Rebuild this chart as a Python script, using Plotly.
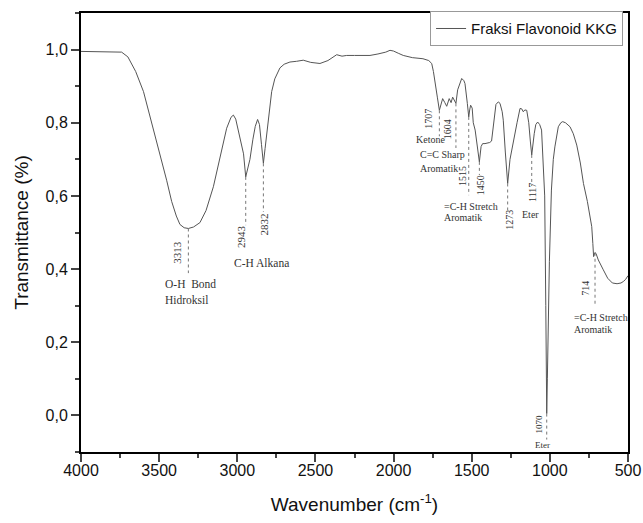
import numpy as np
import plotly.graph_objects as go

# ---------------- data ----------------
wavenumber = [4000, 3900, 3800, 3740, 3700, 3650, 3600, 3580, 3550, 3516, 3480, 3452, 3420, 3390,
              3367, 3340, 3313, 3280, 3239, 3200, 3153, 3110, 3068, 3040, 3025, 3010, 2993, 2980,
              2972, 2960, 2946, 2935, 2919, 2900, 2885, 2870, 2858, 2845, 2833, 2822, 2810, 2795,
              2780, 2760, 2727, 2700, 2663, 2620, 2578, 2530, 2471, 2420, 2380, 2364, 2330, 2300,
              2250, 2200, 2151, 2100, 2050, 2023, 2000, 1970, 1938, 1880, 1812, 1775, 1756, 1745,
              1735, 1720, 1707, 1697, 1686, 1672, 1660, 1644, 1632, 1622, 1612, 1601, 1590, 1575,
              1564, 1550, 1543, 1528, 1519, 1513, 1507, 1497, 1490, 1478, 1465, 1451, 1440, 1430,
              1415, 1400, 1385, 1373, 1360, 1345, 1330, 1319, 1305, 1298, 1285, 1270, 1255, 1234,
              1210, 1191, 1180, 1170, 1160, 1148, 1135, 1125, 1116, 1100, 1090, 1078, 1065, 1053,
              1042, 1033, 1026, 1020, 1016, 1003, 990, 978, 968, 946, 930, 918, 900, 871, 850, 828,
              805, 785, 760, 745, 732, 725, 720, 712, 705, 690, 670, 658, 630, 600, 570, 545, 530,
              515, 500]
transmittance = [0.995, 0.995, 0.995, 0.993, 0.980, 0.940, 0.885, 0.853, 0.800, 0.752, 0.690, 0.643,
                 0.585, 0.545, 0.522, 0.513, 0.511, 0.515, 0.527, 0.560, 0.625, 0.705, 0.785, 0.815,
                 0.821, 0.810, 0.780, 0.750, 0.735, 0.715, 0.652, 0.670, 0.700, 0.755, 0.790, 0.809,
                 0.795, 0.740, 0.689, 0.730, 0.780, 0.840, 0.885, 0.920, 0.950, 0.960, 0.966, 0.968,
                 0.971, 0.965, 0.962, 0.970, 0.982, 0.986, 0.982, 0.984, 0.984, 0.983, 0.984, 0.988,
                 0.993, 0.998, 0.996, 0.990, 0.984, 0.978, 0.975, 0.970, 0.962, 0.940, 0.916, 0.870,
                 0.834, 0.850, 0.866, 0.855, 0.845, 0.866, 0.855, 0.870, 0.862, 0.853, 0.890, 0.912,
                 0.921, 0.915, 0.907, 0.853, 0.816, 0.835, 0.848, 0.840, 0.800, 0.780, 0.740, 0.693,
                 0.735, 0.743, 0.743, 0.745, 0.746, 0.750, 0.800, 0.850, 0.857, 0.853, 0.830, 0.807,
                 0.720, 0.634, 0.700, 0.752, 0.800, 0.839, 0.838, 0.830, 0.835, 0.834, 0.800, 0.750,
                 0.712, 0.770, 0.795, 0.802, 0.795, 0.780, 0.700, 0.600, 0.300, 0.005, 0.100, 0.420,
                 0.616, 0.700, 0.734, 0.789, 0.800, 0.803, 0.800, 0.789, 0.770, 0.739, 0.690, 0.634,
                 0.585, 0.550, 0.516, 0.470, 0.434, 0.445, 0.443, 0.425, 0.405, 0.398, 0.375, 0.362,
                 0.360, 0.362, 0.366, 0.372, 0.382]

series_name = "Fraksi Flavonoid KKG"

# peak markers: where dashed line is drawn (picture position) and the printed label
peak_x = [3313, 2946, 2833, 1707, 1601, 1519, 1451, 1270, 1116, 1020, 711]
peak_label = ["3313", "2943", "2832", "1707", "1604", "1515", "1450", "1273", "1117", "1070", "714"]

# group labels (text)
group_text = ["O-H  Bond", "Hidroksil", "C-H Alkana", "Ketone", "C=C Sharp", "Aromatik",
              "=C-H Stretch", "Aromatik", "Eter", "Eter", "=C-H Stretch", "Aromatik"]

y_tickvals = [0.0, 0.2, 0.4, 0.6, 0.8, 1.0]
y_ticktext = ["0,0", "0,2", "0,4", "0,6", "0,8", "1,0"]
x_tickvals = [4000, 3500, 3000, 2500, 2000, 1500, 1000, 500]

# ---------------- layout helpers (positions / styles) ----------------
line_bottom = [0.389, 0.520, 0.556, 0.763, 0.731, 0.602, 0.657, 0.561, 0.627, -0.066, 0.300]
num_y = [0.446, 0.490, 0.523, 0.812, 0.782, 0.654, 0.630, 0.534, 0.610, -0.023, 0.346]
num_shift = [-11, -5, 1, -11, -9, -7, 2, 1, 1, -8, -9]
num_size = [11, 11, 11, 10, 10, 10, 10, 10, 10, 9, 10]

group_x = [3475, 3475, 2848, 1762, 1844, 1844, 1690, 1690, 1127, 1044, 858, 858]
group_y = [0.359, 0.316, 0.417, 0.755, 0.714, 0.676, 0.572, 0.540, 0.548, -0.080, 0.267, 0.234]
group_anchor = ["left", "left", "center", "center", "left", "left", "left", "left",
                "center", "center", "left", "left"]
group_size = [11.5, 11.5, 11.5, 10, 10, 10, 10, 10, 10, 9, 10, 10]

fig = go.Figure()
fig.add_trace(go.Scatter(x=wavenumber, y=transmittance, mode="lines", name=series_name,
                         line=dict(color="#555555", width=1)))

wn_sorted = np.array(wavenumber[::-1], dtype=float)
tr_sorted = np.array(transmittance[::-1], dtype=float)

shapes = []
annotations = []
for px, lab, lb, ny, sh, fs in zip(peak_x, peak_label, line_bottom, num_y, num_shift, num_size):
    top = float(np.interp(px, wn_sorted, tr_sorted))
    shapes.append(dict(type="line", xref="x", yref="y", x0=px, x1=px, y0=top, y1=lb,
                       line=dict(color="#777777", width=1, dash="dot")))
    annotations.append(dict(x=px, y=ny, xref="x", yref="y", text=lab, textangle=-90,
                            showarrow=False, xshift=sh,
                            font=dict(family="Liberation Serif", size=fs, color="#333333")))

for t, gx, gy, ga, fs in zip(group_text, group_x, group_y, group_anchor, group_size):
    annotations.append(dict(x=gx, y=gy, xref="x", yref="y", text=t, showarrow=False,
                            xanchor=ga, yanchor="middle",
                            font=dict(family="Liberation Serif", size=fs, color="#333333")))

fig.update_layout(
    width=643, height=523,
    margin=dict(l=81, r=15, t=13, b=71, autoexpand=False),
    paper_bgcolor="white", plot_bgcolor="white",
    font=dict(family="Liberation Sans, Arial", color="black"),
    shapes=shapes, annotations=annotations,
    showlegend=True,
    legend=dict(x=0.991, y=1.004, xanchor="right", yanchor="top",
                bgcolor="white", bordercolor="#999999", borderwidth=1,
                font=dict(family="Liberation Sans, Arial", size=15, color="#111111"),
                tracegroupgap=0, itemwidth=30),
)
fig.update_xaxes(range=[4000, 500], tickvals=x_tickvals, ticks="outside", ticklen=8, tickwidth=1.5,
                 minor=dict(dtick=250, ticks="outside", ticklen=4, tickwidth=1.5),
                 showline=True, linecolor="black", linewidth=2, mirror=True, showgrid=False,
                 zeroline=False, automargin=False, ticklabelstandoff=-5,
                 tickfont=dict(size=16, color="#111111"),
                 title=dict(text="Wavenumber (cm<sup>-1</sup>)", font=dict(size=19, color="#111111"),
                            standoff=19))
fig.update_yaxes(range=[-0.1, 1.1], tickvals=y_tickvals, ticktext=y_ticktext, ticks="outside",
                 ticklen=8, tickwidth=1.5,
                 minor=dict(tick0=0, dtick=0.1, ticks="outside", ticklen=4, tickwidth=1.5),
                 showline=True, linecolor="black", linewidth=2, mirror=True, showgrid=False,
                 zeroline=False, automargin=False, tickfont=dict(size=16, color="#111111"),
                 title=dict(text="Transmittance (%)", font=dict(size=19, color="#111111"),
                            standoff=12))

fig.write_html("out.html", config={"displayModeBar": False},
               post_script="document.body.style.margin='0';")
